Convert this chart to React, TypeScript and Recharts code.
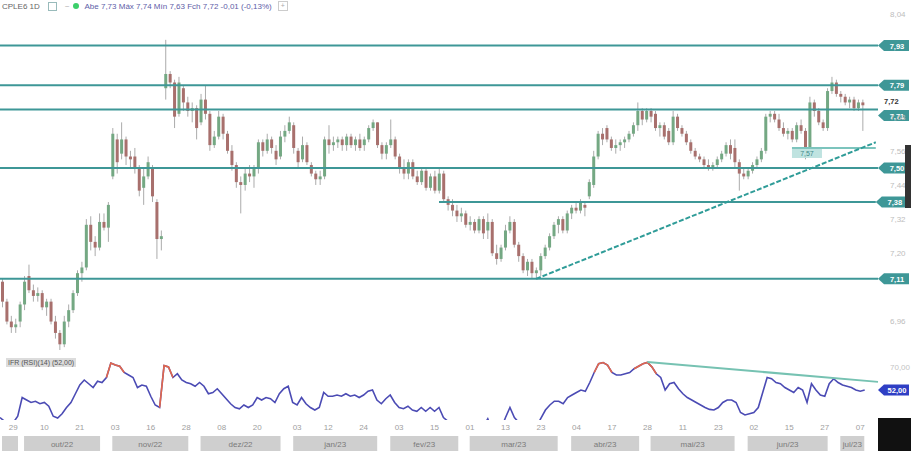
import React from 'react';
import {
  ComposedChart, Bar, XAxis, YAxis, ReferenceLine, LineChart, Line, BarChart,
} from 'recharts';

const MONTHS = [
  { label: '', key: '09/22', days: [26, 27, 28, 29, 30] },
  { label: 'out/22', key: '10/22', days: [3, 4, 5, 6, 7, 10, 11, 13, 14, 17, 18, 19, 20, 21, 24, 25, 26, 27, 28, 31] },
  { label: 'nov/22', key: '11/22', days: [1, 3, 4, 7, 8, 9, 10, 11, 14, 16, 17, 18, 21, 22, 23, 24, 25, 28, 29, 30] },
  { label: 'dez/22', key: '12/22', days: [1, 2, 5, 6, 7, 8, 9, 12, 13, 14, 15, 16, 19, 20, 21, 22, 23, 26, 27, 28, 29] },
  { label: 'jan/23', key: '01/23', days: [2, 3, 4, 5, 6, 9, 10, 11, 12, 13, 16, 17, 18, 19, 20, 23, 24, 25, 26, 27, 30, 31] },
  { label: 'fev/23', key: '02/23', days: [1, 2, 3, 6, 7, 8, 9, 10, 13, 14, 15, 16, 17, 22, 23, 24, 27, 28] },
  { label: 'mar/23', key: '03/23', days: [1, 2, 3, 6, 7, 8, 9, 10, 13, 14, 15, 16, 17, 20, 21, 22, 23, 24, 27, 28, 29, 30, 31] },
  { label: 'abr/23', key: '04/23', days: [3, 4, 5, 6, 10, 11, 12, 13, 14, 17, 18, 19, 20, 24, 25, 26, 27, 28] },
  { label: 'mai/23', key: '05/23', days: [2, 3, 4, 5, 8, 9, 10, 11, 12, 15, 16, 17, 18, 19, 22, 23, 24, 25, 26, 29, 30, 31] },
  { label: 'jun/23', key: '06/23', days: [1, 2, 5, 6, 7, 9, 12, 13, 14, 15, 16, 19, 20, 21, 22, 23, 26, 27, 28, 29, 30] },
  { label: 'jul/23', key: '07/23', days: [3, 4, 5, 6, 7, 10, 11] },
];
// 11/07 is an empty slot on the right (inside the jul/23 band), followed by two more empty slots
const PAD_DATES = ['12/07/23', '13/07/23'];

const TICK_DATES = ['29/09/22', '10/10/22', '21/10/22', '03/11/22', '16/11/22', '28/11/22', '08/12/22', '20/12/22',
  '03/01/23', '12/01/23', '24/01/23', '03/02/23', '15/02/23', '01/03/23', '13/03/23', '23/03/23', '04/04/23',
  '17/04/23', '28/04/23', '11/05/23', '23/05/23', '02/06/23', '15/06/23', '27/06/23', '07/07/23'];

const OPEN = [7.10, 7.03, 6.96, 6.94, 6.96, 7.02, 7.12, 7.07, 7.05, 7.06,
  7.01, 7.03, 6.96, 6.92, 6.88, 6.96, 7.00, 7.06, 7.13, 7.15,
  7.30, 7.24, 7.22, 7.31, 7.29, 7.47, 7.60, 7.55, 7.60, 7.54,
  7.54, 7.50, 7.43, 7.47, 7.50, 7.38, 7.25, 7.78, 7.83, 7.80,
  7.69, 7.78, 7.73, 7.70, 7.71, 7.66, 7.74, 7.69, 7.58, 7.61,
  7.68, 7.62, 7.56, 7.51, 7.45, 7.44, 7.48, 7.47, 7.50, 7.59,
  7.56, 7.60, 7.56, 7.54, 7.61, 7.63, 7.65, 7.56, 7.53, 7.58,
  7.51, 7.48, 7.46, 7.47, 7.60, 7.58, 7.59, 7.60, 7.58, 7.61,
  7.58, 7.60, 7.58, 7.60, 7.64, 7.66, 7.58, 7.55, 7.58, 7.60,
  7.54, 7.50, 7.48, 7.52, 7.47, 7.45, 7.49, 7.43, 7.47, 7.42,
  7.48, 7.39, 7.37, 7.35, 7.33, 7.34, 7.30, 7.31, 7.28, 7.32,
  7.28, 7.31, 7.20, 7.18, 7.22, 7.28, 7.31, 7.23, 7.19, 7.14,
  7.17, 7.13, 7.14, 7.19, 7.22, 7.26, 7.30, 7.32, 7.28, 7.34,
  7.36, 7.35, 7.37, 7.40, 7.44, 7.54, 7.62, 7.64, 7.60, 7.57,
  7.58, 7.59, 7.60, 7.62, 7.65, 7.70, 7.67, 7.70, 7.69, 7.64,
  7.65, 7.63, 7.59, 7.68, 7.64, 7.62, 7.59, 7.56, 7.54, 7.53,
  7.51, 7.50, 7.51, 7.53, 7.55, 7.58, 7.57, 7.52, 7.48, 7.47,
  7.49, 7.51, 7.53, 7.56, 7.68, 7.69, 7.67, 7.64, 7.62, 7.63,
  7.60, 7.65, 7.63, 7.57, 7.73, 7.70, 7.66, 7.64, 7.77, 7.80,
  7.76, 7.75, 7.73, 7.74, 7.71, 7.73];

const HIGH = [7.11, 7.04, 6.98, 6.97, 7.03, 7.12, 7.16, 7.09, 7.08, 7.07,
  7.04, 7.04, 6.98, 6.93, 6.98, 7.02, 7.07, 7.14, 7.17, 7.32,
  7.33, 7.26, 7.34, 7.34, 7.38, 7.64, 7.62, 7.66, 7.61, 7.56,
  7.57, 7.51, 7.50, 7.54, 7.51, 7.39, 7.28, 7.95, 7.84, 7.81,
  7.82, 7.79, 7.75, 7.73, 7.72, 7.76, 7.79, 7.70, 7.63, 7.70,
  7.69, 7.63, 7.58, 7.52, 7.47, 7.50, 7.51, 7.51, 7.60, 7.60,
  7.62, 7.61, 7.58, 7.63, 7.65, 7.68, 7.66, 7.57, 7.61, 7.59,
  7.52, 7.49, 7.49, 7.61, 7.65, 7.61, 7.61, 7.61, 7.62, 7.62,
  7.61, 7.62, 7.61, 7.65, 7.67, 7.66, 7.59, 7.59, 7.67, 7.61,
  7.55, 7.53, 7.53, 7.53, 7.49, 7.50, 7.50, 7.48, 7.49, 7.50,
  7.49, 7.40, 7.39, 7.37, 7.36, 7.35, 7.33, 7.32, 7.33, 7.33,
  7.34, 7.32, 7.23, 7.23, 7.30, 7.33, 7.32, 7.24, 7.20, 7.18,
  7.18, 7.15, 7.20, 7.23, 7.27, 7.31, 7.33, 7.33, 7.35, 7.37,
  7.38, 7.39, 7.38, 7.46, 7.56, 7.63, 7.64, 7.65, 7.61, 7.60,
  7.60, 7.61, 7.63, 7.66, 7.73, 7.71, 7.71, 7.71, 7.70, 7.66,
  7.66, 7.64, 7.70, 7.69, 7.65, 7.63, 7.60, 7.57, 7.55, 7.54,
  7.53, 7.52, 7.54, 7.56, 7.59, 7.60, 7.60, 7.53, 7.50, 7.50,
  7.52, 7.54, 7.57, 7.69, 7.70, 7.70, 7.69, 7.66, 7.64, 7.64,
  7.66, 7.67, 7.64, 7.75, 7.74, 7.71, 7.67, 7.78, 7.82, 7.81,
  7.77, 7.76, 7.75, 7.75, 7.74, 7.74];

const LOW = [7.01, 6.95, 6.92, 6.92, 6.94, 7.00, 7.06, 7.03, 7.03, 7.00,
  6.98, 6.95, 6.90, 6.86, 6.87, 6.94, 6.99, 7.05, 7.10, 7.14,
  7.21, 7.19, 7.21, 7.28, 7.24, 7.46, 7.48, 7.53, 7.51, 7.50,
  7.48, 7.40, 7.37, 7.46, 7.38, 7.18, 7.21, 7.74, 7.78, 7.64,
  7.68, 7.70, 7.68, 7.66, 7.60, 7.65, 7.67, 7.56, 7.57, 7.60,
  7.60, 7.55, 7.49, 7.43, 7.34, 7.42, 7.45, 7.43, 7.48, 7.54,
  7.55, 7.55, 7.51, 7.53, 7.59, 7.62, 7.55, 7.50, 7.52, 7.51,
  7.47, 7.44, 7.44, 7.46, 7.55, 7.56, 7.57, 7.56, 7.56, 7.57,
  7.56, 7.56, 7.56, 7.59, 7.63, 7.57, 7.53, 7.53, 7.57, 7.53,
  7.48, 7.46, 7.46, 7.46, 7.44, 7.44, 7.42, 7.42, 7.41, 7.41,
  7.38, 7.35, 7.33, 7.31, 7.31, 7.29, 7.28, 7.27, 7.27, 7.25,
  7.25, 7.19, 7.16, 7.17, 7.21, 7.27, 7.22, 7.17, 7.13, 7.12,
  7.11, 7.11, 7.12, 7.18, 7.21, 7.25, 7.27, 7.27, 7.27, 7.32,
  7.34, 7.34, 7.33, 7.39, 7.43, 7.53, 7.58, 7.59, 7.56, 7.55,
  7.56, 7.57, 7.59, 7.61, 7.63, 7.65, 7.66, 7.66, 7.63, 7.61,
  7.60, 7.58, 7.58, 7.63, 7.61, 7.58, 7.55, 7.53, 7.52, 7.50,
  7.49, 7.49, 7.50, 7.52, 7.54, 7.53, 7.50, 7.42, 7.46, 7.46,
  7.48, 7.50, 7.52, 7.55, 7.66, 7.66, 7.63, 7.61, 7.60, 7.59,
  7.59, 7.62, 7.53, 7.56, 7.68, 7.65, 7.63, 7.63, 7.76, 7.75,
  7.73, 7.72, 7.71, 7.70, 7.70, 7.63];

const CLOSE = [7.03, 6.96, 6.94, 6.95, 7.02, 7.10, 7.07, 7.05, 7.06, 7.01,
  7.03, 6.96, 6.92, 6.88, 6.96, 7.00, 7.06, 7.13, 7.15, 7.30,
  7.24, 7.22, 7.31, 7.29, 7.37, 7.62, 7.52, 7.60, 7.54, 7.53,
  7.50, 7.42, 7.47, 7.52, 7.40, 7.25, 7.26, 7.83, 7.80, 7.68,
  7.80, 7.73, 7.70, 7.71, 7.64, 7.74, 7.69, 7.58, 7.61, 7.68,
  7.62, 7.56, 7.51, 7.45, 7.44, 7.48, 7.47, 7.50, 7.59, 7.56,
  7.60, 7.57, 7.53, 7.61, 7.63, 7.66, 7.57, 7.52, 7.58, 7.52,
  7.48, 7.46, 7.47, 7.60, 7.58, 7.59, 7.60, 7.58, 7.61, 7.58,
  7.60, 7.57, 7.60, 7.64, 7.66, 7.58, 7.55, 7.58, 7.60, 7.54,
  7.50, 7.48, 7.52, 7.47, 7.45, 7.49, 7.43, 7.47, 7.42, 7.48,
  7.39, 7.37, 7.35, 7.33, 7.34, 7.30, 7.31, 7.28, 7.32, 7.27,
  7.31, 7.20, 7.18, 7.22, 7.28, 7.31, 7.23, 7.19, 7.14, 7.17,
  7.13, 7.14, 7.19, 7.22, 7.26, 7.30, 7.32, 7.28, 7.34, 7.36,
  7.35, 7.38, 7.36, 7.45, 7.54, 7.62, 7.60, 7.60, 7.57, 7.58,
  7.59, 7.60, 7.62, 7.65, 7.70, 7.67, 7.70, 7.68, 7.64, 7.65,
  7.61, 7.59, 7.68, 7.64, 7.62, 7.59, 7.56, 7.54, 7.53, 7.51,
  7.50, 7.51, 7.53, 7.55, 7.58, 7.55, 7.52, 7.48, 7.47, 7.49,
  7.51, 7.53, 7.56, 7.68, 7.69, 7.67, 7.64, 7.62, 7.63, 7.60,
  7.65, 7.63, 7.57, 7.73, 7.70, 7.66, 7.64, 7.77, 7.80, 7.76,
  7.75, 7.73, 7.74, 7.71, 7.73, 7.72];

const RSI = [30, 27, 25, 26, 31, 46, 44, 42, 43, 41,
  42, 39, 31, 29.6, 33, 38, 42, 49, 56, 60,
  57, 54, 59, 58, 62, 73.6, 72, 71, 66, 64,
  62, 54, 56, 55, 47, 40, 38, 71.5, 70.5, 62,
  65, 60, 58, 57, 55, 58, 55, 49, 50, 53,
  49, 45, 41, 38, 37, 40, 38, 40, 46, 44,
  46, 45, 42, 49, 53, 55, 42, 40, 46, 41,
  38, 36, 38, 50, 47, 47, 48, 47, 49, 47,
  48, 46, 48, 51, 52, 44, 41, 45, 48, 42,
  38, 37, 39, 36, 35, 38, 35, 38, 35, 38,
  30, 27, 25, 23, 24, 22, 23, 21, 25, 23,
  29, 20, 18, 21, 30, 38, 30, 26, 22, 24,
  22, 23, 29.5, 36, 40, 43, 43, 41, 46, 48,
  50, 52, 51, 58, 66, 73, 74, 72, 66, 64,
  64, 65, 66, 69, 71, 73, 74, 70.5, 65, 62,
  52, 57, 58, 53, 49, 46, 44, 42, 40, 38,
  36.5, 36, 38, 42, 44, 44, 42, 34, 32, 33,
  34, 38, 50, 62, 61, 58, 57, 54, 52, 50,
  54, 52, 42, 57, 52, 48, 47, 57, 61, 58,
  56, 55, 54, 52, 51, 52];

const PRICE_TICKS = [8.04, 7.68, 7.56, 7.44, 7.32, 7.20, 6.96];
const LEVELS = [7.93, 7.79, 7.705, 7.50, 7.38, 7.11];
const LEVEL_START_INDEX = [-1, -1, -1, -1, 99, -1];
const TREND_START_INDEX = 121;
const TREND_VALUES = [7.11, 7.59];
const SHORT_SUPPORT_INDEX = 179;
const SHORT_SUPPORT_VALUE = 7.57;
const RSI_TREND_INDEX = 146;
const RSI_TREND_VALUES = [74.4, 58.5];
const RSI_LEVEL = 70;

const dateOf = (d: number, key: string) => `${String(d).padStart(2, '0')}/${key}`;
const DATES: string[] = MONTHS.flatMap((m) => m.days.map((d) => dateOf(d, m.key)));
const ALL_DATES = [...DATES, ...PAD_DATES];
const LAST = OPEN.length - 1;

const monthStart: Record<string, { count: number; label: string }> = {};
MONTHS.forEach((m) => {
  monthStart[dateOf(m.days[0], m.key)] = { count: m.days.length, label: m.label };
});

const rows = ALL_DATES.map((date, i) => {
  const ms = monthStart[date];
  const base: any = { date, band: i < DATES.length ? 1 : null, mCount: ms ? ms.count : 0, mLabel: ms ? ms.label : '' };
  if (i > LAST) return base;
  const hot = RSI[i] >= RSI_LEVEL || (i > 0 && RSI[i - 1] >= RSI_LEVEL) || (i < LAST && RSI[i + 1] >= RSI_LEVEL);
  return {
    ...base,
    open: OPEN[i], high: HIGH[i], low: LOW[i], close: CLOSE[i],
    range: [LOW[i], HIGH[i]],
    rsi: RSI[i],
    rsiHot: hot ? RSI[i] : null,
  };
});

const fmt = (v: number) => v.toFixed(2).replace('.', ',');
const TEAL = '#3e9797';
const FONT = '"Liberation Sans", Arial, sans-serif';

const Candle = (props: any) => {
  const { x, y, width, height, payload } = props;
  if (!payload || payload.open == null) return null;
  const { open, close, high, low } = payload;
  const top = Math.min(y, y + height);
  const h = Math.abs(height);
  const ratio = high !== low ? h / (high - low) : 0;
  const yO = top + (high - open) * ratio;
  const yC = top + (high - close) * ratio;
  const up = close >= open;
  const cx = x + width / 2;
  const bTop = Math.min(yO, yC);
  const bH = Math.max(Math.abs(yO - yC), 1);
  return (
    <g>
      <line x1={cx} x2={cx} y1={top} y2={top + h} stroke="#ababab" strokeWidth={1} />
      <rect x={x} y={bTop} width={width} height={bH} fill={up ? '#74a883' : '#a8706d'} />
    </g>
  );
};

const Badge = (props: any) => {
  const { viewBox, text, fill = TEAL, color = '#fff', dy = 0 } = props;
  if (!viewBox) return null;
  const x0 = viewBox.x + viewBox.width;
  const y = viewBox.y + dy;
  return (
    <g>
      <polygon
        points={`${x0},${y} ${x0 + 6},${y - 5.5} ${x0 + 31},${y - 5.5} ${x0 + 31},${y + 5.5} ${x0 + 6},${y + 5.5}`}
        fill={fill}
      />
      <text x={x0 + 19} y={y + 3} fontSize={7.5} fill={color} textAnchor="middle" fontWeight="bold" fontFamily={FONT}>
        {text}
      </text>
    </g>
  );
};

const PriceText = (props: any) => {
  const { viewBox, text } = props;
  if (!viewBox) return null;
  return (
    <text x={viewBox.x + viewBox.width + 6} y={viewBox.y - 1} fontSize={7.5} fill="#333" fontWeight="bold" fontFamily={FONT}>
      {text}
    </text>
  );
};

const SmallTag = (props: any) => {
  const { viewBox, text } = props;
  if (!viewBox) return null;
  return (
    <g>
      <rect x={viewBox.x} y={viewBox.y + 1} width={30} height={9} fill="#bfe3e0" />
      <text x={viewBox.x + 15} y={viewBox.y + 8} fontSize={7} fill="#3e8a8a" textAnchor="middle" fontFamily={FONT}>{text}</text>
    </g>
  );
};

// one grey box per month, drawn from the month's first day band over all its day bands
const MonthCell = (props: any) => {
  const { x, y, width, height, payload } = props;
  if (!payload || !payload.mCount) return null;
  const w = width * payload.mCount;
  return (
    <g>
      <rect x={x + 2} y={y} width={Math.max(w - 4, 0)} height={height} fill="#cfcfcf" />
      {payload.mLabel ? (
        <text x={x + w / 2} y={y + height / 2 + 3} fontSize={8} fill="#7a7a7a" textAnchor="middle" fontFamily={FONT}>
          {payload.mLabel}
        </text>
      ) : null}
    </g>
  );
};

export default function App() {
  const lastClose = CLOSE[LAST];
  const lastRsi = RSI[LAST];
  const pad = ALL_DATES[ALL_DATES.length - 1];
  return (
    <div style={{ position: 'absolute', left: 0, top: 0, width: 911, height: 451, background: '#fff', overflow: 'hidden', fontFamily: FONT }}>
      <div style={{ position: 'absolute', left: 0, top: 0 }}>
        <ComposedChart width={911} height={350} data={rows} margin={{ top: 0, right: 0, bottom: 0, left: 0 }}>
          <XAxis dataKey="date" hide />
          <YAxis
            orientation="right"
            width={33}
            domain={[6.86, 8.09]}
            ticks={PRICE_TICKS}
            tickFormatter={fmt}
            axisLine={false}
            tickLine={false}
            tick={{ fontSize: 8, fill: '#bdbdbd', fontFamily: FONT }}
            tickMargin={6}
            allowDataOverflow
          />
          <Bar dataKey="range" barSize={3} shape={<Candle />} isAnimationActive={false} />
          {LEVELS.map((v, k) =>
            LEVEL_START_INDEX[k] < 0 ? (
              <ReferenceLine key={k} y={v} stroke={TEAL} strokeWidth={2}
                label={<Badge text={fmt(v)} dy={v === 7.705 ? 6 : 0} />} />
            ) : (
              <ReferenceLine key={k} segment={[{ x: DATES[LEVEL_START_INDEX[k]], y: v }, { x: pad, y: v }]}
                stroke={TEAL} strokeWidth={2} label={<Badge text={fmt(v)} />} />
            ))}
          <ReferenceLine
            segment={[{ x: DATES[SHORT_SUPPORT_INDEX], y: SHORT_SUPPORT_VALUE }, { x: pad, y: SHORT_SUPPORT_VALUE }]}
            stroke="#7cc4bd" strokeWidth={2} label={<SmallTag text={fmt(SHORT_SUPPORT_VALUE)} />}
          />
          <ReferenceLine
            segment={[{ x: DATES[TREND_START_INDEX], y: TREND_VALUES[0] }, { x: pad, y: TREND_VALUES[1] }]}
            stroke="#2f9c98" strokeWidth={2} strokeDasharray="5 2"
          />
          <ReferenceLine y={lastClose} stroke="none" label={<PriceText text={fmt(lastClose)} />} />
        </ComposedChart>
      </div>

      <div style={{ position: 'absolute', left: 0, top: 350 }}>
        <LineChart width={911} height={86} data={rows} margin={{ top: 0, right: 0, bottom: 0, left: 0 }}>
          <XAxis
            dataKey="date"
            ticks={TICK_DATES}
            interval={0}
            tickFormatter={(d: string) => d.slice(0, 2)}
            axisLine={false}
            tickLine={false}
            tickSize={0}
            tickMargin={4}
            height={16}
            tick={{ fontSize: 8, fill: '#a0a0a0', fontFamily: FONT }}
          />
          <YAxis
            orientation="right"
            width={33}
            domain={[28, 84]}
            ticks={[RSI_LEVEL]}
            tickFormatter={fmt}
            axisLine={false}
            tickLine={false}
            tickMargin={6}
            tick={{ fontSize: 8, fill: '#c4c4c4', fontFamily: FONT }}
            allowDataOverflow
          />
          <Line dataKey="rsi" stroke="#4b4bb4" strokeWidth={1.6} dot={false} isAnimationActive={false} connectNulls={false} />
          <Line dataKey="rsiHot" stroke="#e2674c" strokeWidth={1.6} dot={false} isAnimationActive={false} connectNulls={false} />
          <ReferenceLine
            segment={[{ x: DATES[RSI_TREND_INDEX], y: RSI_TREND_VALUES[0] }, { x: pad, y: RSI_TREND_VALUES[1] }]}
            stroke="#76c2b2" strokeWidth={2}
          />
          <ReferenceLine y={lastRsi} stroke="none" label={<Badge text={fmt(lastRsi)} fill="#2f3fc4" />} />
        </LineChart>
      </div>

      <div style={{ position: 'absolute', left: 0, top: 436 }}>
        <BarChart width={911} height={15} data={rows} barCategoryGap={0} margin={{ top: 0, right: 33, bottom: 0, left: 0 }}>
          <XAxis dataKey="date" hide />
          <YAxis hide domain={[0, 1]} />
          <Bar dataKey="band" shape={<MonthCell />} isAnimationActive={false} />
        </BarChart>
      </div>

      <div style={{ position: 'absolute', left: 2, top: 1, display: 'flex', alignItems: 'center', fontSize: 8, whiteSpace: 'nowrap', height: 10 }}>
        <span style={{ color: '#666', marginRight: 8 }}>CPLE6 1D</span>
        <span style={{ display: 'inline-block', width: 7, height: 7, border: '1px solid #9bb', marginRight: 8 }} />
        <span style={{ color: '#aaa', marginRight: 4 }}>~</span>
        <span style={{ display: 'inline-block', width: 6, height: 6, borderRadius: 3, background: '#3ccf6a', marginRight: 5 }} />
        <span style={{ color: '#6060a8' }}>
          {`Abe ${fmt(OPEN[LAST])} Máx ${fmt(HIGH[LAST])} Mín ${fmt(LOW[LAST])} Fch ${fmt(lastClose)} -0,01 (-0,13%)`}
        </span>
        <span style={{ display: 'inline-block', width: 8, height: 8, border: '1px solid #ccc', marginLeft: 6, color: '#aaa', fontSize: 7, lineHeight: '8px', textAlign: 'center' }}>+</span>
      </div>

      <div style={{ position: 'absolute', left: 6, top: 358, fontSize: 7, background: '#dcdcdc', color: '#555', padding: '0 2px', whiteSpace: 'nowrap', lineHeight: '9px' }}>
        {`IFR (RSI)(14) (${fmt(lastRsi)})`}
      </div>

      <div style={{ position: 'absolute', left: 905, top: 145, width: 6, height: 63, background: '#333' }} />
      <div style={{ position: 'absolute', left: 878, top: 418, width: 33, height: 33, background: '#111' }} />
    </div>
  );
}
